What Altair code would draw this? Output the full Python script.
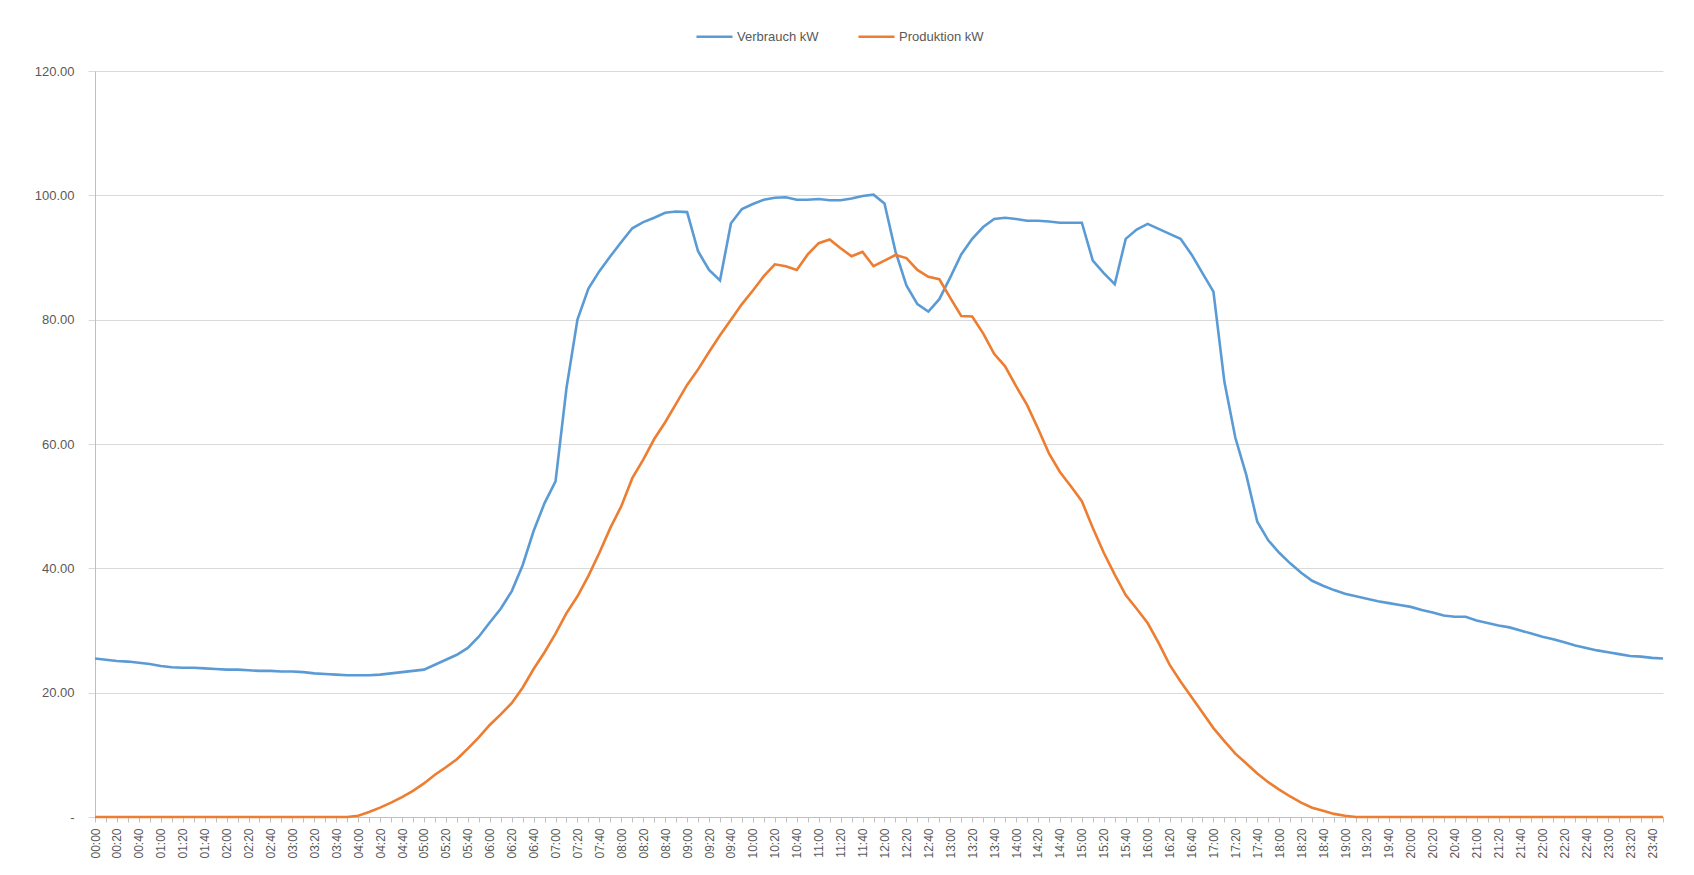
import altair as alt
import pandas as pd

# 10-minute categories 00:00 ... 23:50
times = [f"{h:02d}:{m:02d}" for h in range(24) for m in range(0, 60, 10)]

verbrauch = [
    25.5, 25.3, 25.1, 25.0, 24.8, 24.6, 24.3, 24.1, 24.0, 24.0, 23.9, 23.8,
    23.7, 23.7, 23.6, 23.5, 23.5, 23.4, 23.4, 23.3, 23.1, 23.0, 22.9, 22.8,
    22.8, 22.8, 22.9, 23.1, 23.3, 23.5, 23.7, 24.5, 25.3, 26.1, 27.2, 29.0,
    31.3, 33.5, 36.3, 40.5, 46.0, 50.5, 54.0, 69.0, 80.0, 85.0, 87.8, 90.2,
    92.5, 94.7, 95.7, 96.4, 97.2, 97.4, 97.3, 91.0, 88.0, 86.3, 95.5, 97.8,
    98.6, 99.3, 99.6, 99.7, 99.3, 99.3, 99.4, 99.2, 99.2, 99.5, 99.9, 100.1,
    98.7, 91.0, 85.5, 82.5, 81.3, 83.3, 86.8, 90.5, 93.0, 94.9, 96.2, 96.4,
    96.2, 95.9, 95.9, 95.8, 95.6, 95.6, 95.6, 89.5, 87.5, 85.7, 93.0, 94.5,
    95.4, 94.6, 93.8, 93.0, 90.5, 87.5, 84.5, 70.0, 61.0, 55.0, 47.5, 44.5,
    42.5, 40.8, 39.3, 38.0, 37.2, 36.5, 35.9, 35.5, 35.1, 34.7, 34.4, 34.1,
    33.8, 33.3, 32.9, 32.4, 32.2, 32.2, 31.6, 31.2, 30.8, 30.5, 30.0, 29.5,
    29.0, 28.6, 28.1, 27.6, 27.2, 26.8, 26.5, 26.2, 25.9, 25.8, 25.6, 25.5,
]

produktion = [
    0, 0, 0, 0, 0, 0, 0, 0, 0, 0, 0, 0,
    0, 0, 0, 0, 0, 0, 0, 0, 0, 0, 0, 0,
    0.2, 0.8, 1.5, 2.3, 3.2, 4.2, 5.4, 6.8, 8.0, 9.3, 11.0, 12.8,
    14.8, 16.5, 18.3, 20.8, 23.8, 26.5, 29.5, 32.8, 35.5, 38.8, 42.5, 46.5,
    50.0, 54.5, 57.5, 60.8, 63.5, 66.5, 69.5, 72.0, 74.8, 77.5, 80.0, 82.5,
    84.7, 87.0, 88.9, 88.6, 88.0, 90.5, 92.3, 92.9, 91.5, 90.2, 90.9, 88.6,
    89.5, 90.4, 89.9, 88.0, 86.9, 86.5, 83.5, 80.6, 80.5, 77.8, 74.5, 72.5,
    69.3, 66.3, 62.5, 58.5, 55.5, 53.2, 50.8, 46.5, 42.5, 39.0, 35.7, 33.5,
    31.2, 28.0, 24.5, 21.8, 19.3, 16.8, 14.3, 12.2, 10.2, 8.6, 7.0, 5.6,
    4.4, 3.3, 2.3, 1.5, 1.0, 0.5, 0.2, 0, 0, 0, 0, 0,
    0, 0, 0, 0, 0, 0, 0, 0, 0, 0, 0, 0,
    0, 0, 0, 0, 0, 0, 0, 0, 0, 0, 0, 0,
]

series_names = ["Verbrauch kW", "Produktion kW"]
series_colors = ["#5B9BD5", "#ED7D31"]
y_ticks = [0, 20, 40, 60, 80, 100, 120]

rows = []
for i, t in enumerate(times):
    rows.append({"Zeit": t, "Serie": series_names[0], "kW": verbrauch[i], "o": 0})
    rows.append({"Zeit": t, "Serie": series_names[1], "kW": produktion[i], "o": 1})
df = pd.DataFrame(rows)

label_expr = (
    "(substring(datum.value, 3, 5) == '00' || substring(datum.value, 3, 5) == '20' "
    "|| substring(datum.value, 3, 5) == '40') ? datum.value : ''"
)

chart = (
    alt.Chart(df)
    .mark_line(strokeWidth=2.6, interpolate="linear")
    .encode(
        x=alt.X(
            "Zeit:O",
            sort=times,
            scale=alt.Scale(type="point", padding=0),
            axis=alt.Axis(
                title=None,
                labelAngle=-90,
                labelExpr=label_expr,
                labelOverlap=False,
                labelFontSize=12,
                labelColor="#595959",
                labelFont="Liberation Sans",
                labelPadding=6,
                domainColor="#BFBFBF",
                tickColor="#BFBFBF",
                tickSize=5,
                grid=False,
            ),
        ),
        y=alt.Y(
            "kW:Q",
            scale=alt.Scale(domain=[0, 120], nice=False),
            axis=alt.Axis(
                title=None,
                values=y_ticks,
                labelExpr="datum.value == 0 ? '-\u00a0\u00a0\u00a0' : format(datum.value, '.2f')",
                labelFontSize=13,
                labelColor="#595959",
                labelFont="Liberation Sans",
                labelPadding=14,
                tickSize=7,
                tickColor="#D9D9D9",
                domainColor="#BFBFBF",
                gridColor="#D9D9D9",
                gridWidth=1.2,
            ),
        ),
        color=alt.Color(
            "Serie:N",
            scale=alt.Scale(domain=series_names, range=series_colors),
            legend=alt.Legend(
                title=None,
                orient="none",
                legendX=600,
                legendY=-54,
                direction="horizontal",
                symbolType="stroke",
                symbolSize=1300,
                symbolStrokeWidth=2.6,
                labelFontSize=13,
                labelColor="#595959",
                labelFont="Liberation Sans",
                labelOffset=3,
                columnPadding=34,
            ),
        ),
        order=alt.Order("o:Q"),
    )
    .properties(
        width=1568,
        height=746,
        padding={"left": 87, "top": 63, "right": 20, "bottom": 50},
        autosize="none",
    )
    .configure_view(stroke=None)
)

chart.save("out.html", embed_options={"renderer": "svg", "actions": False})
